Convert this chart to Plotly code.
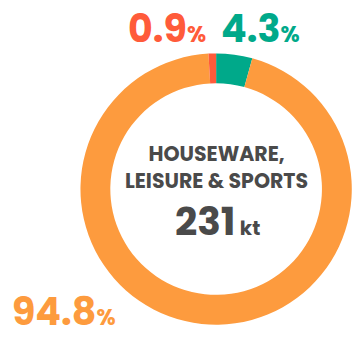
import plotly.graph_objects as go

# Share of the category by material group (percent), clockwise from 12 o'clock
groups = ["Recycled", "Virgin", "Other"]
shares = [4.3, 94.8, 0.9]
colors = ["#00A98A", "#FD9B3E", "#FF5B3A"]

category = "HOUSEWARE,<br>LEISURE & SPORTS"
total_kt = 231

FONT = "Poppins, Inter, sans-serif"
GREY = "#4A4A4A"

fig = go.Figure(
    go.Pie(
        labels=groups,
        values=shares,
        marker=dict(colors=colors, line=dict(width=0)),
        hole=0.78,
        sort=False,
        direction="clockwise",
        rotation=0,
        textinfo="none",
        hoverinfo="label+percent",
        domain=dict(x=[0.228, 1.0], y=[0.045, 0.843]),
        showlegend=False,
    )
)


def pct_label(v):
    return f"{v}<span style='font-size:22px'>%</span>"


# (text, x px, y px, colour, size, xanchor, yanchor)
annotations = [
    (pct_label(shares[2]), 208, 28, colors[2], 38, "right", "middle"),
    (pct_label(shares[0]), 219, 28, colors[0], 38, "left", "middle"),
    (pct_label(shares[1]), 10, 340, colors[1], 38, "left", "bottom"),
    (category, 216, 167, GREY, 20.5, "center", "middle"),
    (f"{total_kt}<span style='font-size:20px'> kt</span>", 217, 221, GREY, 39,
     "center", "middle"),
]

for text, x, y, color, size, xa, ya in annotations:
    fig.add_annotation(
        text=text, x=x / 352, y=1 - y / 340,
        xref="paper", yref="paper", xanchor=xa, yanchor=ya,
        showarrow=False, align="center",
        font=dict(family=FONT, weight="bold", color=color, size=size),
    )

fig.update_layout(
    width=352, height=340,
    margin=dict(l=0, r=0, t=0, b=0),
    paper_bgcolor="white", plot_bgcolor="white",
)

fig.write_html("out.html")
